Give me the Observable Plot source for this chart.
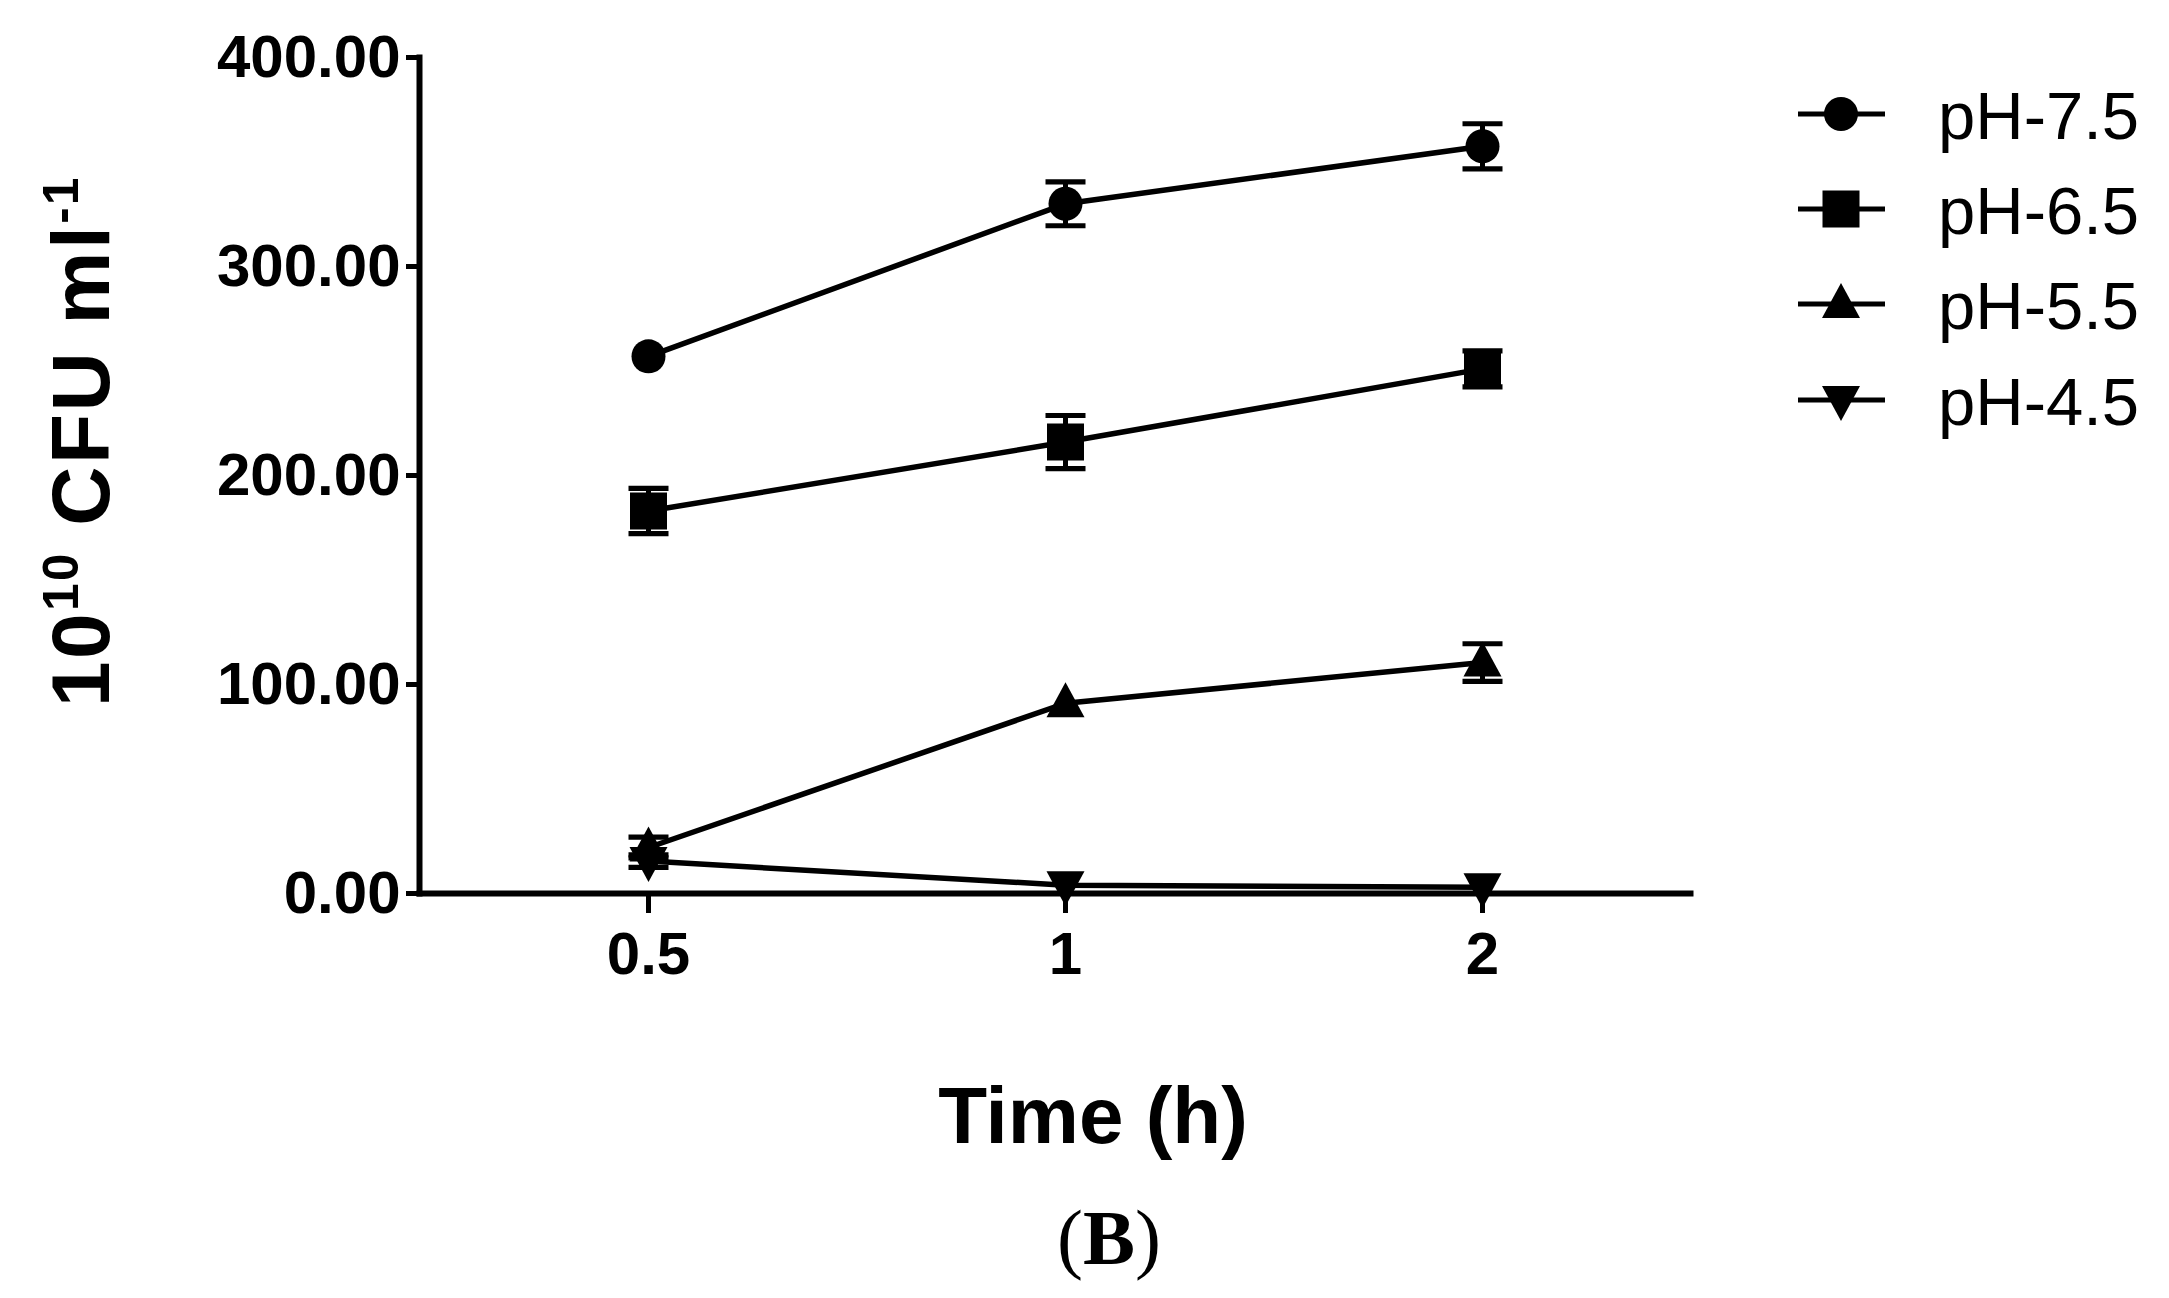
<!DOCTYPE html>
<html>
<head>
<meta charset="utf-8">
<script src="https://cdn.jsdelivr.net/npm/d3@7"></script>
<script src="https://cdn.jsdelivr.net/npm/@observablehq/plot@0.6"></script>
<style>
  html, body { margin: 0; padding: 0; background: #fff; }
  #root { position: relative; width: 2169px; height: 1298px; overflow: hidden; background: #fff; }
  #root svg.plot { position: absolute; left: 0; top: 0; }
  .lbl { position: absolute; white-space: nowrap; line-height: 1; color: #000; }
</style>
</head>
<body>
<div id="root"></div>
<script>
// ---- data ----
const times = ["0.5", "1", "2"];
const series = ["pH-7.5", "pH-6.5", "pH-5.5", "pH-4.5"];
const ph75 = [257, 330, 357.5];
const ph75Err = [0, 10.5, 10.8];
const ph65 = [183, 216, 251];
const ph65Err = [10.8, 12.7, 8.6];
const ph55 = [22, 91, 110.5];
const ph55Err = [5, 0, 9];
const ph45 = [15.5, 4, 3];
const ph45Err = [3, 0, 0];
const yTicks = [0, 100, 200, 300, 400];
const yLabelMain = "10";
const yLabelSup1 = "10";
const yLabelMid = " CFU ml";
const yLabelSup2 = "-1";
const xLabel = "Time (h)";
const panelLabel = "B";

const values = [ph75, ph65, ph55, ph45];
const errs = [ph75Err, ph65Err, ph55Err, ph45Err];
const data = series.flatMap((s, i) => times.map((t, j) => ({
  series: s, time: t, value: values[i][j], err: errs[i][j]
})));
const withErr = data.filter(d => d.err > 0);

// ---- symbols ----
const symCircle = { draw(c) { c.moveTo(17, 0); c.arc(0, 0, 17, 0, 2 * Math.PI); c.closePath(); } };
const symSquare = { draw(c) { c.rect(-18.5, -18.5, 37, 37); } };
const symUp = { draw(c) { c.moveTo(0, -21); c.lineTo(19, 14); c.lineTo(-19, 14); c.closePath(); } };
const symDown = { draw(c) { c.moveTo(0, 21); c.lineTo(19, -14); c.lineTo(-19, -14); c.closePath(); } };
const symCap = { draw(c) { c.rect(-20, -2.6, 40, 5.2); } };
const symbols = [symCircle, symSquare, symUp, symDown];

const W = 2169, H = 1298;
const plot = Plot.plot({
  width: W,
  height: H,
  marginLeft: 419,
  marginRight: W - 1690,
  marginTop: 57,
  marginBottom: H - 893,
  style: { fontFamily: "'Liberation Sans', Arial, sans-serif", fontSize: "60px", fontWeight: "bold", color: "#000", background: "transparent" },
  x: { type: "point", domain: times, padding: 0.5, insetLeft: 20, label: null },
  y: { domain: [0, 400], label: null },
  symbol: { domain: series, range: symbols },
  marks: [
    Plot.axisY(yTicks, { tickSize: 13, tickPadding: 6, strokeWidth: 5, tickFormat: d3.format(".2f"), label: null, fill: "#000" }),
    Plot.axisX({ tickSize: 20, tickPadding: 18, strokeWidth: 5, label: null, fill: "#000" }),
    Plot.frame({ anchor: "left", stroke: "#000", strokeWidth: 6 }),
    Plot.frame({ anchor: "bottom", stroke: "#000", strokeWidth: 6 }),
    Plot.line(data, { x: "time", y: "value", z: "series", stroke: "#000", strokeWidth: 5.5 }),
    Plot.ruleX(withErr, { x: "time", y1: d => d.value - d.err, y2: d => d.value + d.err, stroke: "#000", strokeWidth: 5 }),
    Plot.dot(withErr, { x: "time", y: d => d.value + d.err, symbol: symCap, fill: "#000", stroke: null }),
    Plot.dot(withErr, { x: "time", y: d => d.value - d.err, symbol: symCap, fill: "#000", stroke: null }),
    Plot.dot(data, { x: "time", y: "value", symbol: "series", fill: "#000", stroke: null })
  ]
});
plot.classList.add("plot");
const root = document.getElementById("root");
root.appendChild(plot);

// ---- legend ----
const legendRows = [114, 209, 304, 400];
const lg = d3.select(root).append("svg")
  .attr("width", W).attr("height", H)
  .style("position", "absolute").style("left", "0px").style("top", "0px");
series.forEach((s, i) => {
  const y = legendRows[i];
  const g = lg.append("g");
  g.append("line").attr("x1", 1798).attr("x2", 1885).attr("y1", y).attr("y2", y)
    .attr("stroke", "#000").attr("stroke-width", 5);
  const p = d3.path();
  symbols[i].draw(p);
  g.append("path").attr("d", p.toString()).attr("transform", `translate(1841,${y})`).attr("fill", "#000");
  g.append("text").attr("x", 1938).attr("y", y + 25).text(s)
    .attr("font-family", "'Liberation Sans', Arial, sans-serif").attr("font-size", 67).attr("fill", "#000");
});

// ---- axis titles ----
const yl = document.createElement("div");
yl.className = "lbl";
yl.style.font = "bold 82px 'Liberation Sans', Arial, sans-serif";
yl.style.letterSpacing = "2.5px";
yl.innerHTML = `${yLabelMain}<span style="font-size:0.6em;vertical-align:0.62em">${yLabelSup1}</span>${yLabelMid.replace(" ", "&nbsp;")}<span style="font-size:0.6em;vertical-align:0.62em">${yLabelSup2}</span>`;
yl.style.left = "80px";
yl.style.top = "441px";
yl.style.transform = "translate(-50%, -50%) rotate(-90deg)";
root.appendChild(yl);

const xl = document.createElement("div");
xl.className = "lbl";
xl.style.font = "bold 80px 'Liberation Sans', Arial, sans-serif";
xl.textContent = xLabel;
xl.style.left = "1093px";
xl.style.top = (1138 - 0.8465 * 80) + "px";
xl.style.transform = "translateX(-50%)";
root.appendChild(xl);

const bl = document.createElement("div");
bl.className = "lbl";
bl.style.font = "78px 'Liberation Serif', 'Times New Roman', serif";
bl.innerHTML = `(<b>${panelLabel}</b>)`;
bl.style.left = "1109px";
bl.style.top = (1258 - 0.8375 * 78) + "px";
bl.style.transform = "translateX(-50%)";
root.appendChild(bl);
</script>
</body>
</html>
